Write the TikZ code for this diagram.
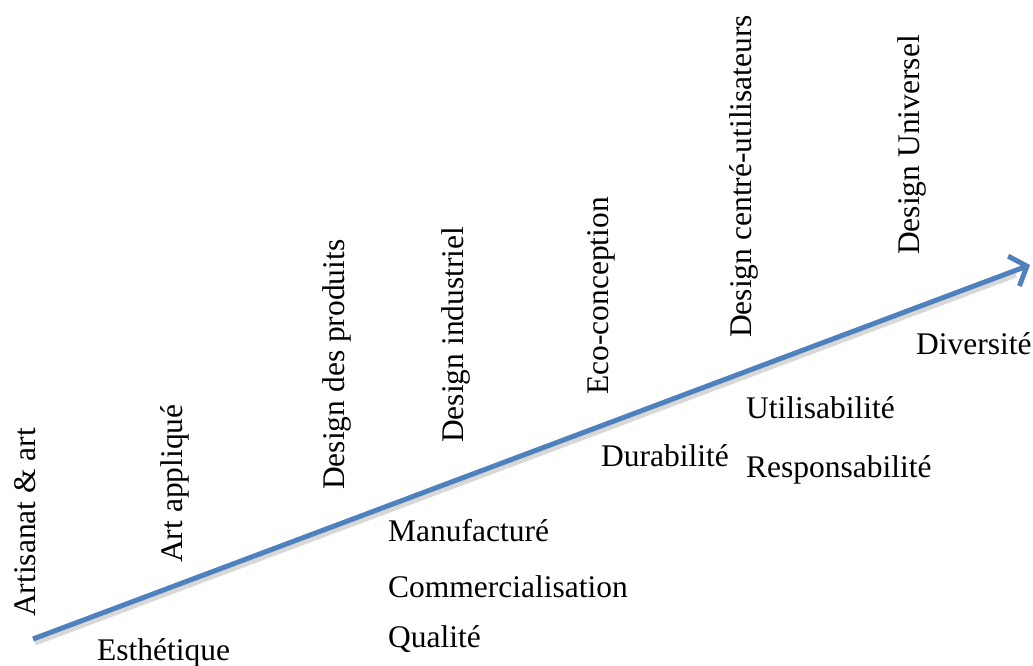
\documentclass[tikz,border=0pt]{standalone}
\usepackage{fontspec}
\setmainfont{Liberation Serif}
\usetikzlibrary{arrows.meta}
\definecolor{axeblue}{HTML}{4F81BD}

\begin{document}
\begin{tikzpicture}[x=1pt, y=1pt, every node/.style={inner sep=0pt, font=\fontsize{31.5}{38}\selectfont},
  etape/.style={rotate=90, anchor=base west},
  valeur/.style={anchor=base west}]
  \useasboundingbox (0,0) rectangle (1033,666);
  \coordinate (debut) at (33, 27);
  \coordinate (fin) at (1030, 401);
  \coordinate (ombredebut) at (35, 23);
  \coordinate (ombrefin) at (1016, 391);
  \draw[black!30, line width=5pt, opacity=.5] (ombredebut) -- (ombrefin);
  \draw[axeblue, line width=5pt, -{Straight Barb[length=14pt, width=32pt]}] (debut) -- (fin);
  % etapes
  \node (artisanat) [etape] at (35, 49) {Artisanat \& art};
  \node (applique) [etape] at (182, 103) {Art appliqué};
  \node (produits) [etape] at (344, 176) {Design des produits};
  \node (industriel) [etape] at (463, 223) {Design industriel};
  \node (eco) [etape] at (608, 271) {Eco-conception};
  \node (centre) [etape] at (751, 328) {Design centré-utilisateurs};
  \node (universel) [etape] at (919, 411) {Design Universel};
  % valeurs
  \node (esthetique) [valeur] at (97, 5) {Esthétique};
  \node (manufacture) [valeur] at (388, 124) {Manufacturé};
  \node (commerce) [valeur] at (388, 68) {Commercialisation};
  \node (qualite) [valeur] at (388, 18) {Qualité};
  \node (durabilite) [valeur] at (601, 199) {Durabilité};
  \node (utilisabilite) [valeur] at (746, 247) {Utilisabilité};
  \node (responsabilite) [valeur] at (746, 188) {Responsabilité};
  \node (diversite) [valeur] at (916, 311) {Diversité};
\end{tikzpicture}
\end{document}
